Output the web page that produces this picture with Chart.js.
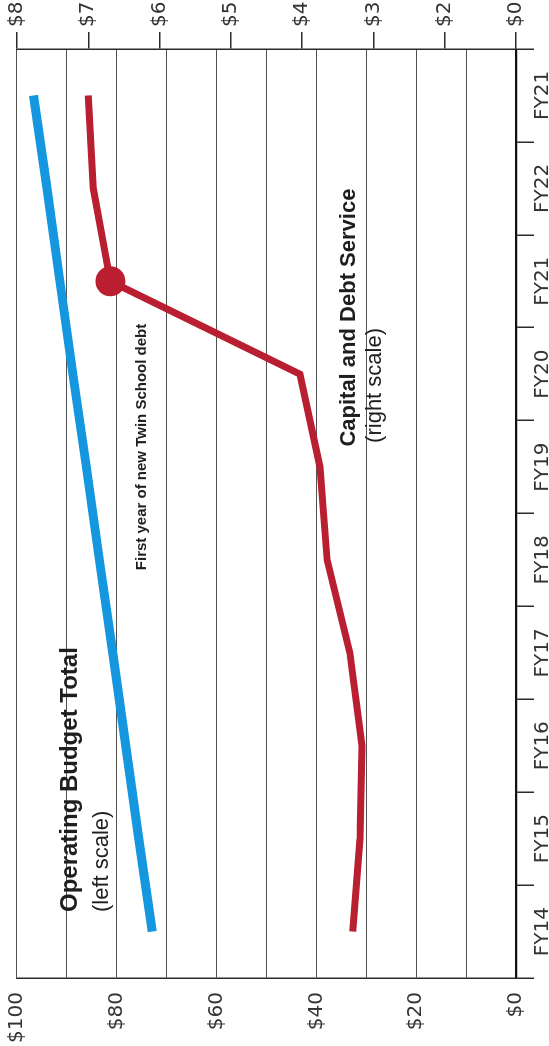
<!DOCTYPE html>
<html>
<head>
<meta charset="utf-8">
<script src="https://cdn.jsdelivr.net/npm/chart.js@4/dist/chart.umd.min.js"></script>
<style>
  html, body { margin: 0; padding: 0; background: #fff; overflow: hidden; width: 549px; height: 1046px; }
  /* the chart is laid out landscape and turned a quarter turn counter-clockwise */
  #frame { position: absolute; left: 0; top: 0; width: 1046px; height: 549px;
           transform-origin: 0 0; transform: translate(0, 1046px) rotate(-90deg); }
</style>
</head>
<body>
<div id="frame"><canvas id="chart" width="1046" height="549"></canvas></div>
<script>
// Fiscal-year categories as printed on the axis
const fiscalYears = ['FY14', 'FY15', 'FY16', 'FY17', 'FY18', 'FY19', 'FY20', 'FY21', 'FY22', 'FY21'];

// Operating budget total, $ millions (left scale)
const operatingBudget = [72.9, 75.6, 78.2, 80.8, 83.5, 86.1, 88.8, 91.4, 94.0, 96.7];

// Capital and debt service, $ millions (right scale)
const capitalDebt = [3.29, 3.19, 3.16, 3.33, 3.65, 3.75, 4.03, 6.69, 6.93, 7.00];

// Index of the first year of the new Twin School debt (highlighted point)
const twinSchoolIndex = 7;

// Left scale: gridline every $10, label every $20
const leftStep = 10;
const leftLabelEvery = 20;

// Right scale tick labels, bottom to top, as printed
const rightTickLabels = ['$0', '$2', '$3', '$4', '$5', '$6', '$7', '$8'];

// Text notes placed in data units: [category position, left-scale value]
const notes = [
  { text: 'Operating Budget Total', at: [0.21, 88.0], font: 'bold 24px "Liberation Sans"' },
  { text: '(left scale)',           at: [0.21, 81.8], font: '22px "Liberation Sans"' },
  { text: 'First year of new Twin School debt', at: [3.89, 74.1], font: 'bold 15px "Liberation Sans"' },
  { text: 'Capital and Debt Service', at: [5.22, 32.3], font: 'bold 22px "Liberation Sans"' },
  { text: '(right scale)',          at: [5.26, 27.1], font: '22px "Liberation Sans"' }
];

const BLUE = '#1597e0';
const RED = '#b91f30';
const INK = '#2a2a2a';
const tickFont = { family: '"DejaVu Sans"', size: 20 };

// keep tick labels from pushing the plot area inward
function noLabelPadding(s) {
  s.paddingTop = 0; s.paddingBottom = 0; s.paddingLeft = 0; s.paddingRight = 0;
}

const notesPlugin = {
  id: 'notes',
  beforeDatasetsDraw(chart) {
    const ctx = chart.ctx;
    const x = chart.scales.x;
    const y = chart.scales.yL;
    ctx.save();
    ctx.fillStyle = '#1e1e1e';
    ctx.textAlign = 'left';
    ctx.textBaseline = 'alphabetic';
    for (const n of notes) {
      ctx.font = n.font;
      ctx.fillText(n.text, x.getPixelForValue(n.at[0]), y.getPixelForValue(n.at[1]));
    }
    ctx.restore();
  }
};

new Chart(document.getElementById('chart'), {
  type: 'line',
  data: {
    labels: fiscalYears,
    datasets: [
      {
        label: 'Operating Budget Total',
        data: operatingBudget,
        yAxisID: 'yL',
        borderColor: BLUE,
        borderWidth: 9,
        pointRadius: 0,
        tension: 0,
        fill: false
      },
      {
        label: 'Capital and Debt Service',
        data: capitalDebt,
        yAxisID: 'yR',
        borderColor: RED,
        backgroundColor: RED,
        borderWidth: 7,
        pointRadius: capitalDebt.map((_, i) => i === twinSchoolIndex ? 15 : 0),
        pointBorderWidth: 0,
        pointBackgroundColor: RED,
        tension: 0,
        fill: false
      }
    ]
  },
  options: {
    responsive: false,
    animation: false,
    devicePixelRatio: 1,
    layout: { padding: { top: 17, left: 0, right: 0, bottom: 0 } },
    plugins: { legend: { display: false }, tooltip: { enabled: false } },
    scales: {
      x: {
        type: 'category',
        offset: true,
        grid: { offset: true, drawOnChartArea: false, drawTicks: true, tickLength: 18, color: INK, lineWidth: 1.5 },
        border: { display: true, color: '#111', width: 2.2 },
        ticks: { font: tickFont, color: '#333', padding: -3, autoSkip: false, maxRotation: 0, minRotation: 0 },
        afterFit(s) { s.height = 33; noLabelPadding(s); }
      },
      yL: {
        type: 'linear',
        position: 'left',
        min: 0,
        max: 100,
        ticks: {
          stepSize: leftStep,
          font: tickFont,
          color: '#333',
          padding: 14,
          callback: v => (v % leftLabelEvery === 0 ? '$' + v : '')
        },
        grid: { color: 'rgba(50,50,50,0.85)', lineWidth: 1.1, drawTicks: false },
        border: { display: true, color: INK, width: 1.5 },
        afterFit(s) { s.width = 68; noLabelPadding(s); }
      },
      yR: {
        type: 'linear',
        position: 'right',
        min: 1,
        max: 8,
        ticks: {
          stepSize: 1,
          font: tickFont,
          color: '#333',
          padding: 5,
          callback: v => rightTickLabels[Math.round(v) - 1]
        },
        grid: { drawOnChartArea: false, drawTicks: true, tickLength: 17, color: INK, lineWidth: 1.5 },
        border: { display: true, color: INK, width: 1.5 },
        afterFit(s) { s.width = 49; noLabelPadding(s); }
      }
    }
  },
  plugins: [notesPlugin]
});
</script>
</body>
</html>
